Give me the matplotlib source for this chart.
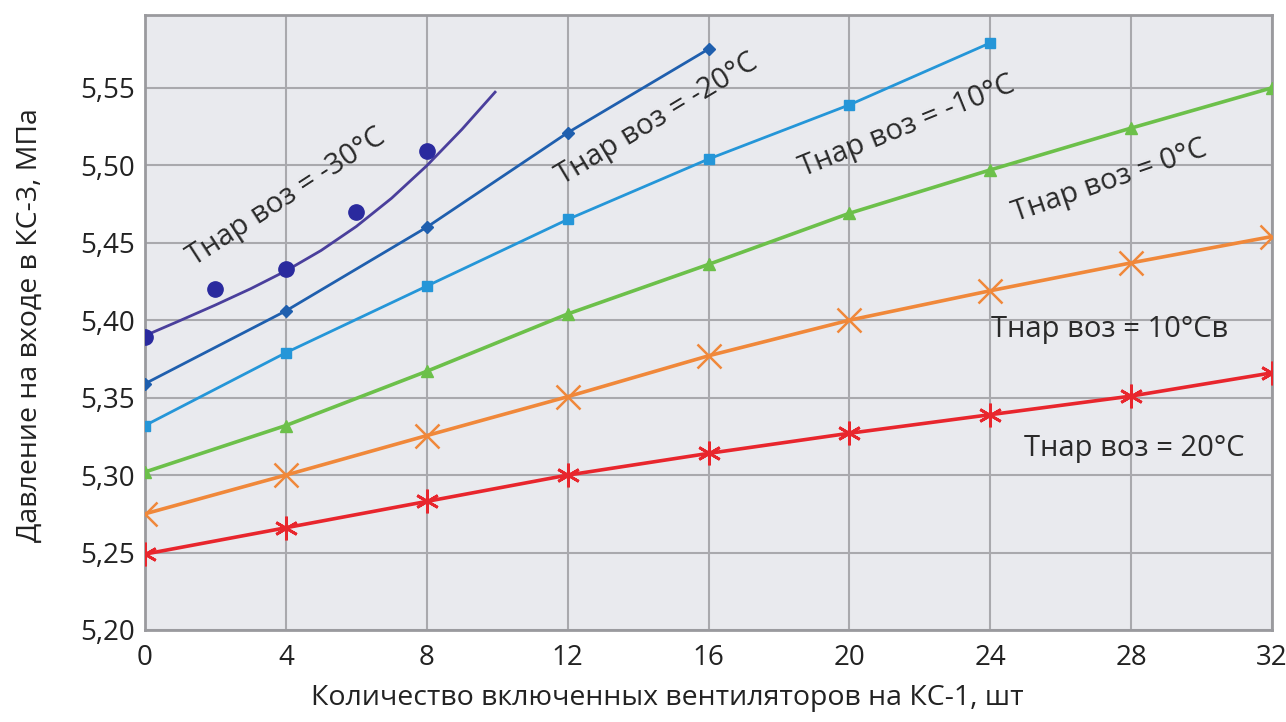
import matplotlib
matplotlib.use("Agg")
import matplotlib.pyplot as plt

# ---- data ----
x_m30 = [0, 2, 4, 6, 8]
y_m30 = [5.389, 5.420, 5.433, 5.470, 5.509]
# fitted trend curve for -30 °C as drawn in the picture
x_m30_curve = [0, 1, 2, 3, 4, 5, 6, 7, 8, 9, 9.94]
y_m30_curve = [5.390, 5.3998, 5.4098, 5.4203, 5.4318, 5.4450, 5.4605, 5.4787, 5.4997, 5.5232, 5.5472]

x_m20 = [0, 4, 8, 12, 16]
y_m20 = [5.359, 5.406, 5.460, 5.521, 5.575]

x_m10 = [0, 4, 8, 12, 16, 20, 24]
y_m10 = [5.332, 5.379, 5.422, 5.465, 5.504, 5.539, 5.579]

x_0 = [0, 4, 8, 12, 16, 20, 24, 28, 32]
y_0 = [5.302, 5.332, 5.367, 5.404, 5.436, 5.469, 5.497, 5.524, 5.550]

x_10 = [0, 4, 8, 12, 16, 20, 24, 28, 32]
y_10 = [5.275, 5.300, 5.3255, 5.3506, 5.377, 5.400, 5.419, 5.437, 5.454]

x_20 = [0, 4, 8, 12, 16, 20, 24, 28, 32]
y_20 = [5.249, 5.266, 5.283, 5.300, 5.314, 5.327, 5.339, 5.351, 5.366]

x_ticks = [0, 4, 8, 12, 16, 20, 24, 28, 32]
y_ticks = [5.20, 5.25, 5.30, 5.35, 5.40, 5.45, 5.50, 5.55]
y_tick_labels = ["5,20", "5,25", "5,30", "5,35", "5,40", "5,45", "5,50", "5,55"]

labels = ["Тнар воз = -30°C", "Тнар воз = -20°C", "Тнар воз = -10°C",
          "Тнар воз = 0°C", "Тнар воз = 10°Cв", "Тнар воз = 20°C"]

xlabel = "Количество включенных вентиляторов на КС-1, шт"
ylabel = "Давление на входе в КС-3, МПа"

# ---- figure ----
regular = ["Open Sans", "DejaVu Sans"]

fig = plt.figure(figsize=(12.86, 7.22), dpi=100)
ax = fig.add_axes([145/1286, 1-630/722, (1272-145)/1286, (630-15)/722])
ax.set_facecolor("#e9eaee")

c_m20 = "#1f5fae"
c_m10 = "#2596d8"
c_0 = "#6cc04a"
c_10 = "#f0883a"
c_20 = "#e8262d"

ax.plot(x_m30_curve, y_m30_curve, color="#4a3f9c", lw=2, zorder=3)
ax.plot(x_m30, y_m30, ls="none", marker="o", ms=11, color="#2a2a9e", zorder=4)

ax.plot(x_m20, y_m20, color=c_m20, lw=2, marker="D", ms=6, zorder=3)
ax.plot(x_m10, y_m10, color=c_m10, lw=2, marker="s", ms=7, zorder=3)
ax.plot(x_0, y_0, color=c_0, lw=2.6, marker="^", ms=9, zorder=3)
ax.plot(x_10, y_10, color=c_10, lw=2.6, marker="x", ms=17, mew=1.8, zorder=3)
ax.plot(x_20, y_20, color=c_20, lw=2.6, marker=(6, 2, 0), ms=17, mew=2, zorder=3)

ax.set_xlim(0, 32)
ax.set_ylim(5.2, 5.597)
ax.set_xticks(x_ticks)
ax.set_xticklabels([str(v) for v in x_ticks], fontfamily=regular, fontsize=20, color="#222222")
ax.set_yticks(y_ticks)
ax.set_yticklabels(y_tick_labels, fontfamily=regular, fontsize=20, color="#222222")
ax.tick_params(axis="both", length=0)
ax.tick_params(axis="y", pad=7)
ax.tick_params(axis="x", pad=10)
ax.grid(True, color="#a9a9ad", lw=1.5, zorder=1)
ax.set_axisbelow(True)
for s in ax.spines.values():
    s.set_color("#9a9a9e")
    s.set_linewidth(2)

ax.set_xlabel(xlabel, fontfamily=regular, fontsize=20.5, color="#222222")
ax.set_ylabel(ylabel, fontfamily=regular, fontsize=20.5, color="#222222")
ax.xaxis.set_label_coords((667 - 145) / 1127, -(684 - 630) / 615)
ax.yaxis.set_label_coords(-(145 - 44) / 1127, (630 - 325) / 615)

ann = [
    (4.03, 5.4795, 33),
    (14.54, 5.5296, 31),
    (21.64, 5.525, 22),
    (27.40, 5.4898, 19),
    (27.40, 5.394, 0),
    (28.08, 5.3173, 0),
]
for (xa, ya, rot), t in zip(ann, labels):
    ax.text(xa, ya, t, rotation=rot, rotation_mode="anchor", ha="center", va="center",
            fontfamily=regular, fontsize=21, color="#2a2a2a", zorder=5)

fig.savefig("out.png", dpi=100, facecolor="white")
